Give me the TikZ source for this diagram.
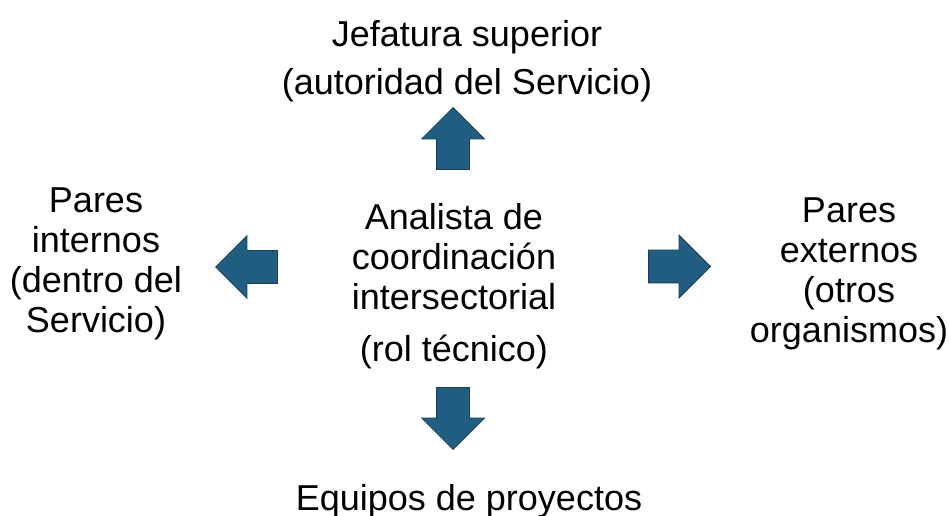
\documentclass[tikz,border=0pt]{standalone}
\usepackage{fontspec}
\setmainfont{Liberation Sans}
\usetikzlibrary{shapes.arrows}
\definecolor{arrowblue}{HTML}{1F5E80}
\definecolor{arrowedge}{HTML}{183F57}

\begin{document}
\begin{tikzpicture}[x=0.75pt,y=-0.75pt,
    role/.style={align=center,font=\fontsize{27}{30}\selectfont,inner sep=0pt,anchor=base},
    bigarrow/.style={single arrow,fill=arrowblue,draw=arrowedge,line width=0.6pt,anchor=tip,
      minimum height=46.5pt,inner xsep=0pt,inner ysep=12pt,single arrow head extend=11.25pt}]

\useasboundingbox (0,0) rectangle (949,516);

% texts (base = last line)
\node[role] (jefe) at (467,95) {Jefatura superior\\[6pt](autoridad del Servicio)};
\node[role] (internos) at (96,333) {Pares\\internos\\(dentro del\\Servicio)};
\node[role] (analista) at (454,362) {Analista de\\coordinación\\intersectorial\\[9pt](rol técnico)};
\node[role] (externos) at (849,343) {Pares\\externos\\(otros\\organismos)};
\node[role] (equipos) at (469,510) {Equipos de proyectos};

% block arrows, placed by their tips
\node[bigarrow,rotate=90] (up) at (453,107) {};
\node[bigarrow,rotate=180] (left) at (215,267) {};
\node[bigarrow] (right) at (711,266.5) {};
\node[bigarrow,rotate=-90] (down) at (453,450) {};
\end{tikzpicture}
\end{document}
